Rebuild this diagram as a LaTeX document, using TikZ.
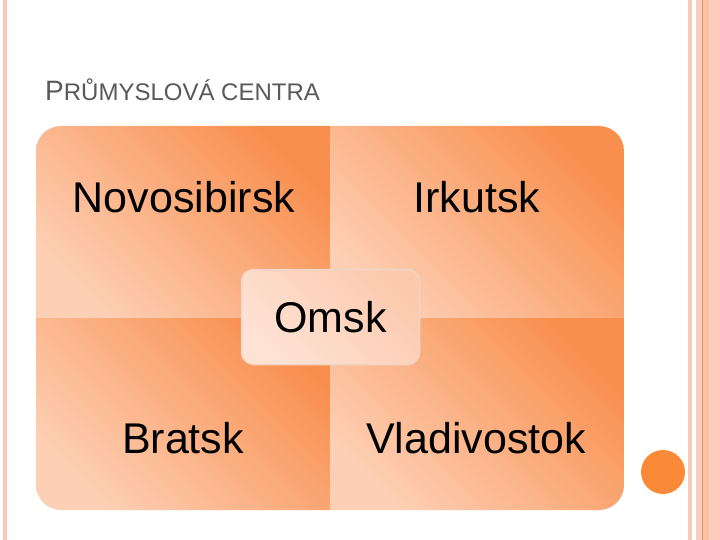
\documentclass[tikz,border=0pt]{standalone}
\usepackage{fontspec}
\setmainfont{Liberation Sans}

\definecolor{peachlight}{HTML}{FDCFB4}
\definecolor{peachmid}{HTML}{FA9D60}
\definecolor{peachdark}{HTML}{F98F4E}
\definecolor{omsklight}{HTML}{FEE3D5}
\definecolor{omskdark}{HTML}{FCC9AD}
\definecolor{omskborder}{HTML}{F1D5C7}
\definecolor{titlegrey}{HTML}{595959}
\definecolor{stripe}{HTML}{F8C9B5}
\definecolor{stripelight}{HTML}{FCCDBD}
\definecolor{stripemid}{HTML}{FBC2A6}
\definecolor{stripedark}{HTML}{E39674}
\definecolor{dotorange}{HTML}{FB8A38}

\begin{document}
\begin{tikzpicture}[x=1pt,y=-1pt,
    city/.style={anchor=base,font=\fontsize{43}{50}\selectfont,text=black,inner sep=0},
    quad/.style={left color=peachdark,middle color=peachmid,right color=peachlight,shading angle=-45}]

    \useasboundingbox (0,0) rectangle (720,540);
    \fill[white] (0,0) rectangle (720,540);

    % side stripes
    \fill[stripe] (3,0) rectangle (7,540);
    \fill[stripe] (688,0) rectangle (692,540);
    \fill[stripelight] (696,0) rectangle (720,540);
    \fill[stripemid] (703,0) rectangle (709,540);
    \fill[stripedark] (702,0) rectangle (703,540);

    % title
    \node[anchor=base west,text=titlegrey,inner sep=0] (title) at (45,101)
        {\fontsize{28}{32}\selectfont P\fontsize{24}{28}\selectfont RŮMYSLOVÁ CENTRA};

    % four quadrants
    \begin{scope}
        \clip[rounded corners=25] (36,126) rectangle (624,510);
        \shade[quad] (36,126) rectangle (330,318);
        \shade[quad] (330,126) rectangle (624,318);
        \shade[quad] (36,318) rectangle (330,510);
        \shade[quad] (330,318) rectangle (624,510);
    \end{scope}

    \node[city] (novosibirsk) at (184,212) {Novosibirsk};
    \node[city] (irkutsk) at (477,212) {Irkutsk};
    \node[city] (bratsk) at (183,453) {Bratsk};
    \node[city] (vladivostok) at (476,453) {Vladivostok};

    \node[draw=omskborder,line width=1.5pt,rounded corners=12,
          minimum width=178,minimum height=95,
          left color=omskdark,right color=omsklight,shading angle=-45,
          font=\fontsize{43}{50}\selectfont] (omsk) at (330.5,317) {Omsk};

    \fill[dotorange] (663,472) circle (22);

\end{tikzpicture}
\end{document}
